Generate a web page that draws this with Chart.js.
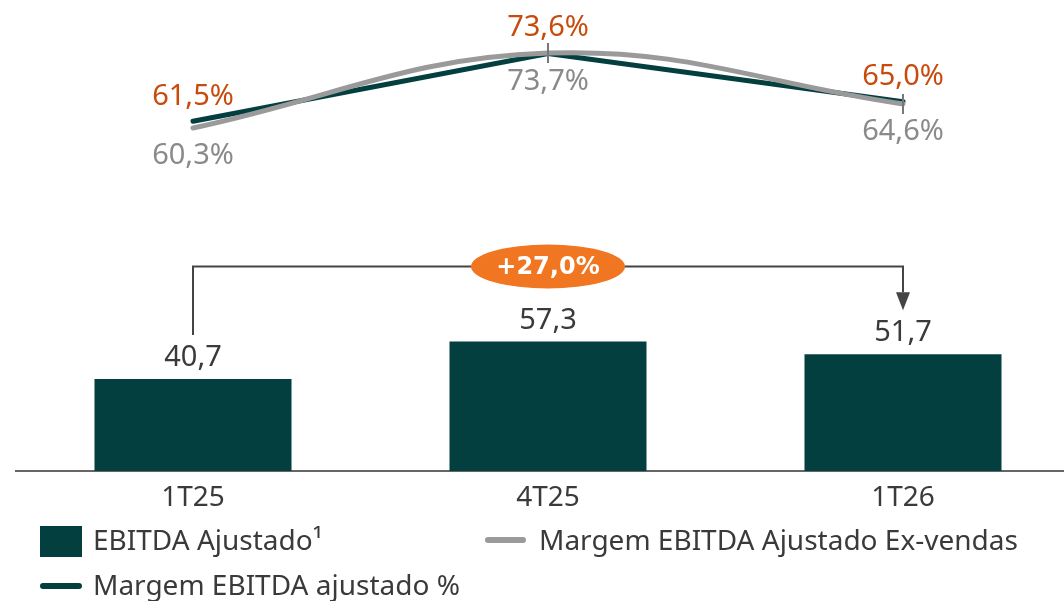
<!DOCTYPE html>
<html>
<head>
<meta charset="utf-8">
<script src="https://cdn.jsdelivr.net/npm/chart.js@4/dist/chart.umd.min.js"></script>
<style>
  html, body { margin: 0; padding: 0; background: #fff; overflow: hidden; }
  #wrap { position: relative; width: 1100px; height: 601px; }
</style>
</head>
<body>
<div id="wrap"><canvas id="chart" width="1100" height="601"></canvas></div>
<script>
const categories = ['1T25', '4T25', '1T26'];
const ebitda = [40.7, 57.3, 51.7];
const margemAjustado = [61.5, 73.6, 65.0];
const margemExVendas = [60.3, 73.7, 64.6];
const seriesNames = ['EBITDA Ajustado¹', 'Margem EBITDA ajustado %', 'Margem EBITDA Ajustado Ex-vendas'];

const DARK = '#033f3f';
const GREY = '#9a9a9a';
const ORANGE = '#c84b0c';
const TEXT = '#3a3a3a';
const FONT = "'Noto Sans', sans-serif";

const fmt = (v, d) => v.toFixed(d).replace('.', ',');

// labels, bracket and legend drawn on top of the chart
const overlay = {
  id: 'overlay',
  afterDatasetsDraw(chart) {
    const ctx = chart.ctx;
    const bars = chart.getDatasetMeta(0).data;
    const dark = chart.getDatasetMeta(1).data;
    const grey = chart.getDatasetMeta(2).data;
    ctx.save();
    ctx.textAlign = 'center';
    ctx.textBaseline = 'middle';

    // small separators between the two margin labels
    ctx.strokeStyle = '#777';
    ctx.lineWidth = 2;
    for (let i = 1; i < grey.length; i++) {
      ctx.beginPath();
      ctx.moveTo(grey[i].x, grey[i].y - 10);
      ctx.lineTo(grey[i].x, grey[i].y + 10);
      ctx.stroke();
    }

    ctx.font = '29px ' + FONT;
    dark.forEach((p, i) => {
      ctx.fillStyle = ORANGE;
      ctx.fillText(fmt(margemAjustado[i], 1) + '%', p.x, Math.min(p.y, grey[i].y) - 25);
    });
    grey.forEach((p, i) => {
      ctx.fillStyle = '#8a8a8a';
      ctx.fillText(fmt(margemExVendas[i], 1) + '%', p.x, Math.max(p.y, dark[i].y) + 28);
    });

    ctx.fillStyle = TEXT;
    bars.forEach((b, i) => {
      ctx.fillText(fmt(ebitda[i], 1), b.x, b.y - 21);
    });

    // growth bracket 1T25 -> 1T26
    const a = bars[0], c = bars[bars.length - 1];
    const topY = Math.min(...bars.map(b => b.y)) - 75;
    ctx.strokeStyle = '#444';
    ctx.lineWidth = 2;
    ctx.beginPath();
    ctx.moveTo(a.x, a.y - 44);
    ctx.lineTo(a.x, topY);
    ctx.lineTo(c.x, topY);
    ctx.lineTo(c.x, c.y - 62);
    ctx.stroke();
    ctx.fillStyle = '#444';
    ctx.beginPath();
    ctx.moveTo(c.x - 7, c.y - 62);
    ctx.lineTo(c.x + 7, c.y - 62);
    ctx.lineTo(c.x, c.y - 44);
    ctx.closePath();
    ctx.fill();

    const midX = bars[1].x;
    ctx.fillStyle = '#f07622';
    ctx.beginPath();
    ctx.ellipse(midX, topY, 77, 22, 0, 0, Math.PI * 2);
    ctx.fill();
    const growth = (ebitda[2] / ebitda[0] - 1) * 100;
    ctx.fillStyle = '#fff';
    ctx.font = "bold 24px 'DejaVu Sans', sans-serif";
    ctx.fillText('+' + fmt(growth, 1) + '%', midX, topY + 1);

    // legend
    const ds = chart.data.datasets;
    ctx.textAlign = 'left';
    ctx.font = '28px ' + FONT;
    ctx.fillStyle = ds[0].backgroundColor;
    ctx.fillRect(40, 526, 42, 31);
    ctx.fillStyle = TEXT;
    ctx.fillText(ds[0].label, 93, 542);

    ctx.lineCap = 'round';
    ctx.lineWidth = 6;
    ctx.strokeStyle = ds[2].borderColor;
    ctx.beginPath(); ctx.moveTo(488, 540); ctx.lineTo(523, 540); ctx.stroke();
    ctx.fillText(ds[2].label, 539, 542);

    ctx.strokeStyle = ds[1].borderColor;
    ctx.beginPath(); ctx.moveTo(43, 586); ctx.lineTo(79, 586); ctx.stroke();
    ctx.fillText(ds[1].label, 93, 587);
    ctx.restore();
  }
};

new Chart(document.getElementById('chart'), {
  data: {
    labels: categories,
    datasets: [
      {
        type: 'bar',
        label: seriesNames[0],
        data: ebitda,
        backgroundColor: DARK,
        yAxisID: 'y',
        barPercentage: 1,
        categoryPercentage: 0.555,
        order: 2
      },
      {
        type: 'line',
        label: seriesNames[1],
        data: margemAjustado,
        borderColor: DARK,
        borderWidth: 5,
        borderCapStyle: 'round',
        tension: 0,
        pointRadius: 0,
        yAxisID: 'y2',
        order: 1
      },
      {
        type: 'line',
        label: seriesNames[2],
        data: margemExVendas,
        borderColor: GREY,
        borderWidth: 5,
        borderCapStyle: 'round',
        tension: 0.4,
        pointRadius: 0,
        yAxisID: 'y2',
        order: 0
      }
    ]
  },
  options: {
    responsive: false,
    animation: false,
    devicePixelRatio: 1,
    layout: { padding: { left: 15.5, right: 19.5, top: 0, bottom: 80 } },
    plugins: { legend: { display: false }, tooltip: { enabled: false } },
    scales: {
      x: {
        grid: { display: true, color: 'transparent', drawTicks: false },
        border: { display: true, color: '#666', width: 2 },
        ticks: { color: TEXT, font: { family: FONT, size: 28 }, padding: 10 },
        afterFit: (s) => { s.height = 50; }
      },
      y: { display: false, min: 0, max: 208.4 },
      y2: { display: false, min: -1.1, max: 83.2 }
    }
  },
  plugins: [overlay]
});
</script>
</body>
</html>
